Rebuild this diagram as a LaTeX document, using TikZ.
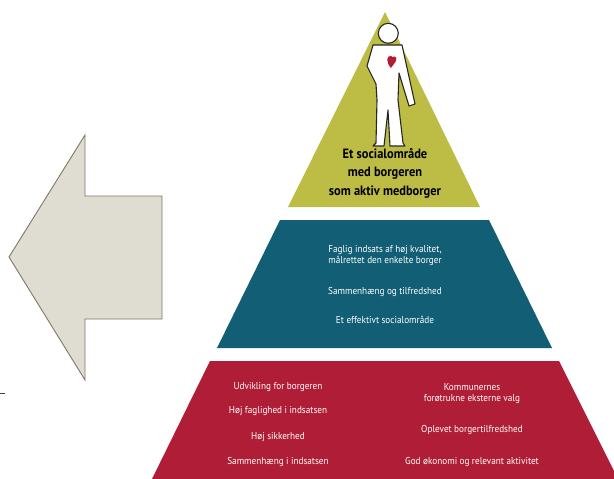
\documentclass[tikz,border=0pt]{standalone}
\usepackage{fontspec}
\setmainfont[FakeStretch=0.92]{PT Sans}
\definecolor{olivegreen}{HTML}{BDBC45}
\definecolor{tealblue}{HTML}{125E74}
\definecolor{crimson}{HTML}{B01D36}
\definecolor{arrowfill}{HTML}{DFDCD2}
\definecolor{arrowline}{HTML}{7F7868}
\tikzset{
  every node/.style={inner sep=0pt},
  tier/.style={draw=none},
  wlabel/.style={text=white,font=\fontsize{10}{11}\selectfont,align=center},
  blabel/.style={text=black,font=\fontsize{13.5}{18.5}\selectfont\bfseries,align=center},
  person/.style={draw=black!85,line width=1.1pt,fill=white,line join=round}
}
\begin{document}
\begin{tikzpicture}[x=1pt,y=-1pt]
\useasboundingbox (0,0) rectangle (614,479);
\clip (0,0) rectangle (614,479);
\fill[tier,fill=olivegreen] (385,12) -- (480,207) -- (288,207) -- cycle;
\fill[tier,fill=tealblue] (280,220) -- (489,220) -- (552,348) -- (217,348) -- cycle;
\fill[tier,fill=crimson] (210,361) -- (559,361) -- (618,479) -- (152,479) -- cycle;
\draw[draw=arrowline,fill=arrowfill,line width=0.9pt] (9,257) -- (85,135) -- (85,196) -- (162,196) -- (162,319) -- (85,319) -- (85,380) -- cycle;
\draw[black!75,line width=0.9pt] (0,393) -- (5,393);
% person
\draw[person] (373,45) -- (402,45) -- (415,104) -- (409,106) -- (399,73) -- (398,100) -- (403,143) -- (405,146) -- (390,146) -- (388,110) -- (384,146) -- (373,146) -- (376,143) -- (377,100) -- (376,84) -- (367,66) -- cycle;
\draw[person] (388.3,33.3) circle (10);
\fill[crimson] (391,68) .. controls (386,63) and (386,55) .. (391,56) .. controls (392,56) and (393,57) .. (391.5,58) .. controls (393,55.5) and (398,56) .. (396,61) -- cycle;
\node[blabel] (title) at (385,173) {Et socialområde\\med borgeren\\som aktiv medborger};
\node[wlabel] (t1) at (385,256) {Faglig indsats af høj kvalitet,\\målrettet den enkelte borger};
\node[wlabel] (t2) at (385,292) {Sammenhæng og tilfredshed};
\node[wlabel] (t3) at (385,320) {Et effektivt socialområde};
\node[wlabel] (r1) at (278,387) {Udvikling for borgeren};
\node[wlabel] (r2) at (278,411) {Høj faglighed i indsatsen};
\node[wlabel] (r3) at (278,437) {Høj sikkerhed};
\node[wlabel] (r4) at (278,462) {Sammenhæng i indsatsen};
\node[wlabel] (r5) at (472,394) {Kommunernes\\forøtrukne eksterne valg};
\node[wlabel] (r6) at (472,430) {Oplevet borgertilfredshed};
\node[wlabel] (r7) at (472,462) {God økonomi og relevant aktivitet};
\end{tikzpicture}
\end{document}
